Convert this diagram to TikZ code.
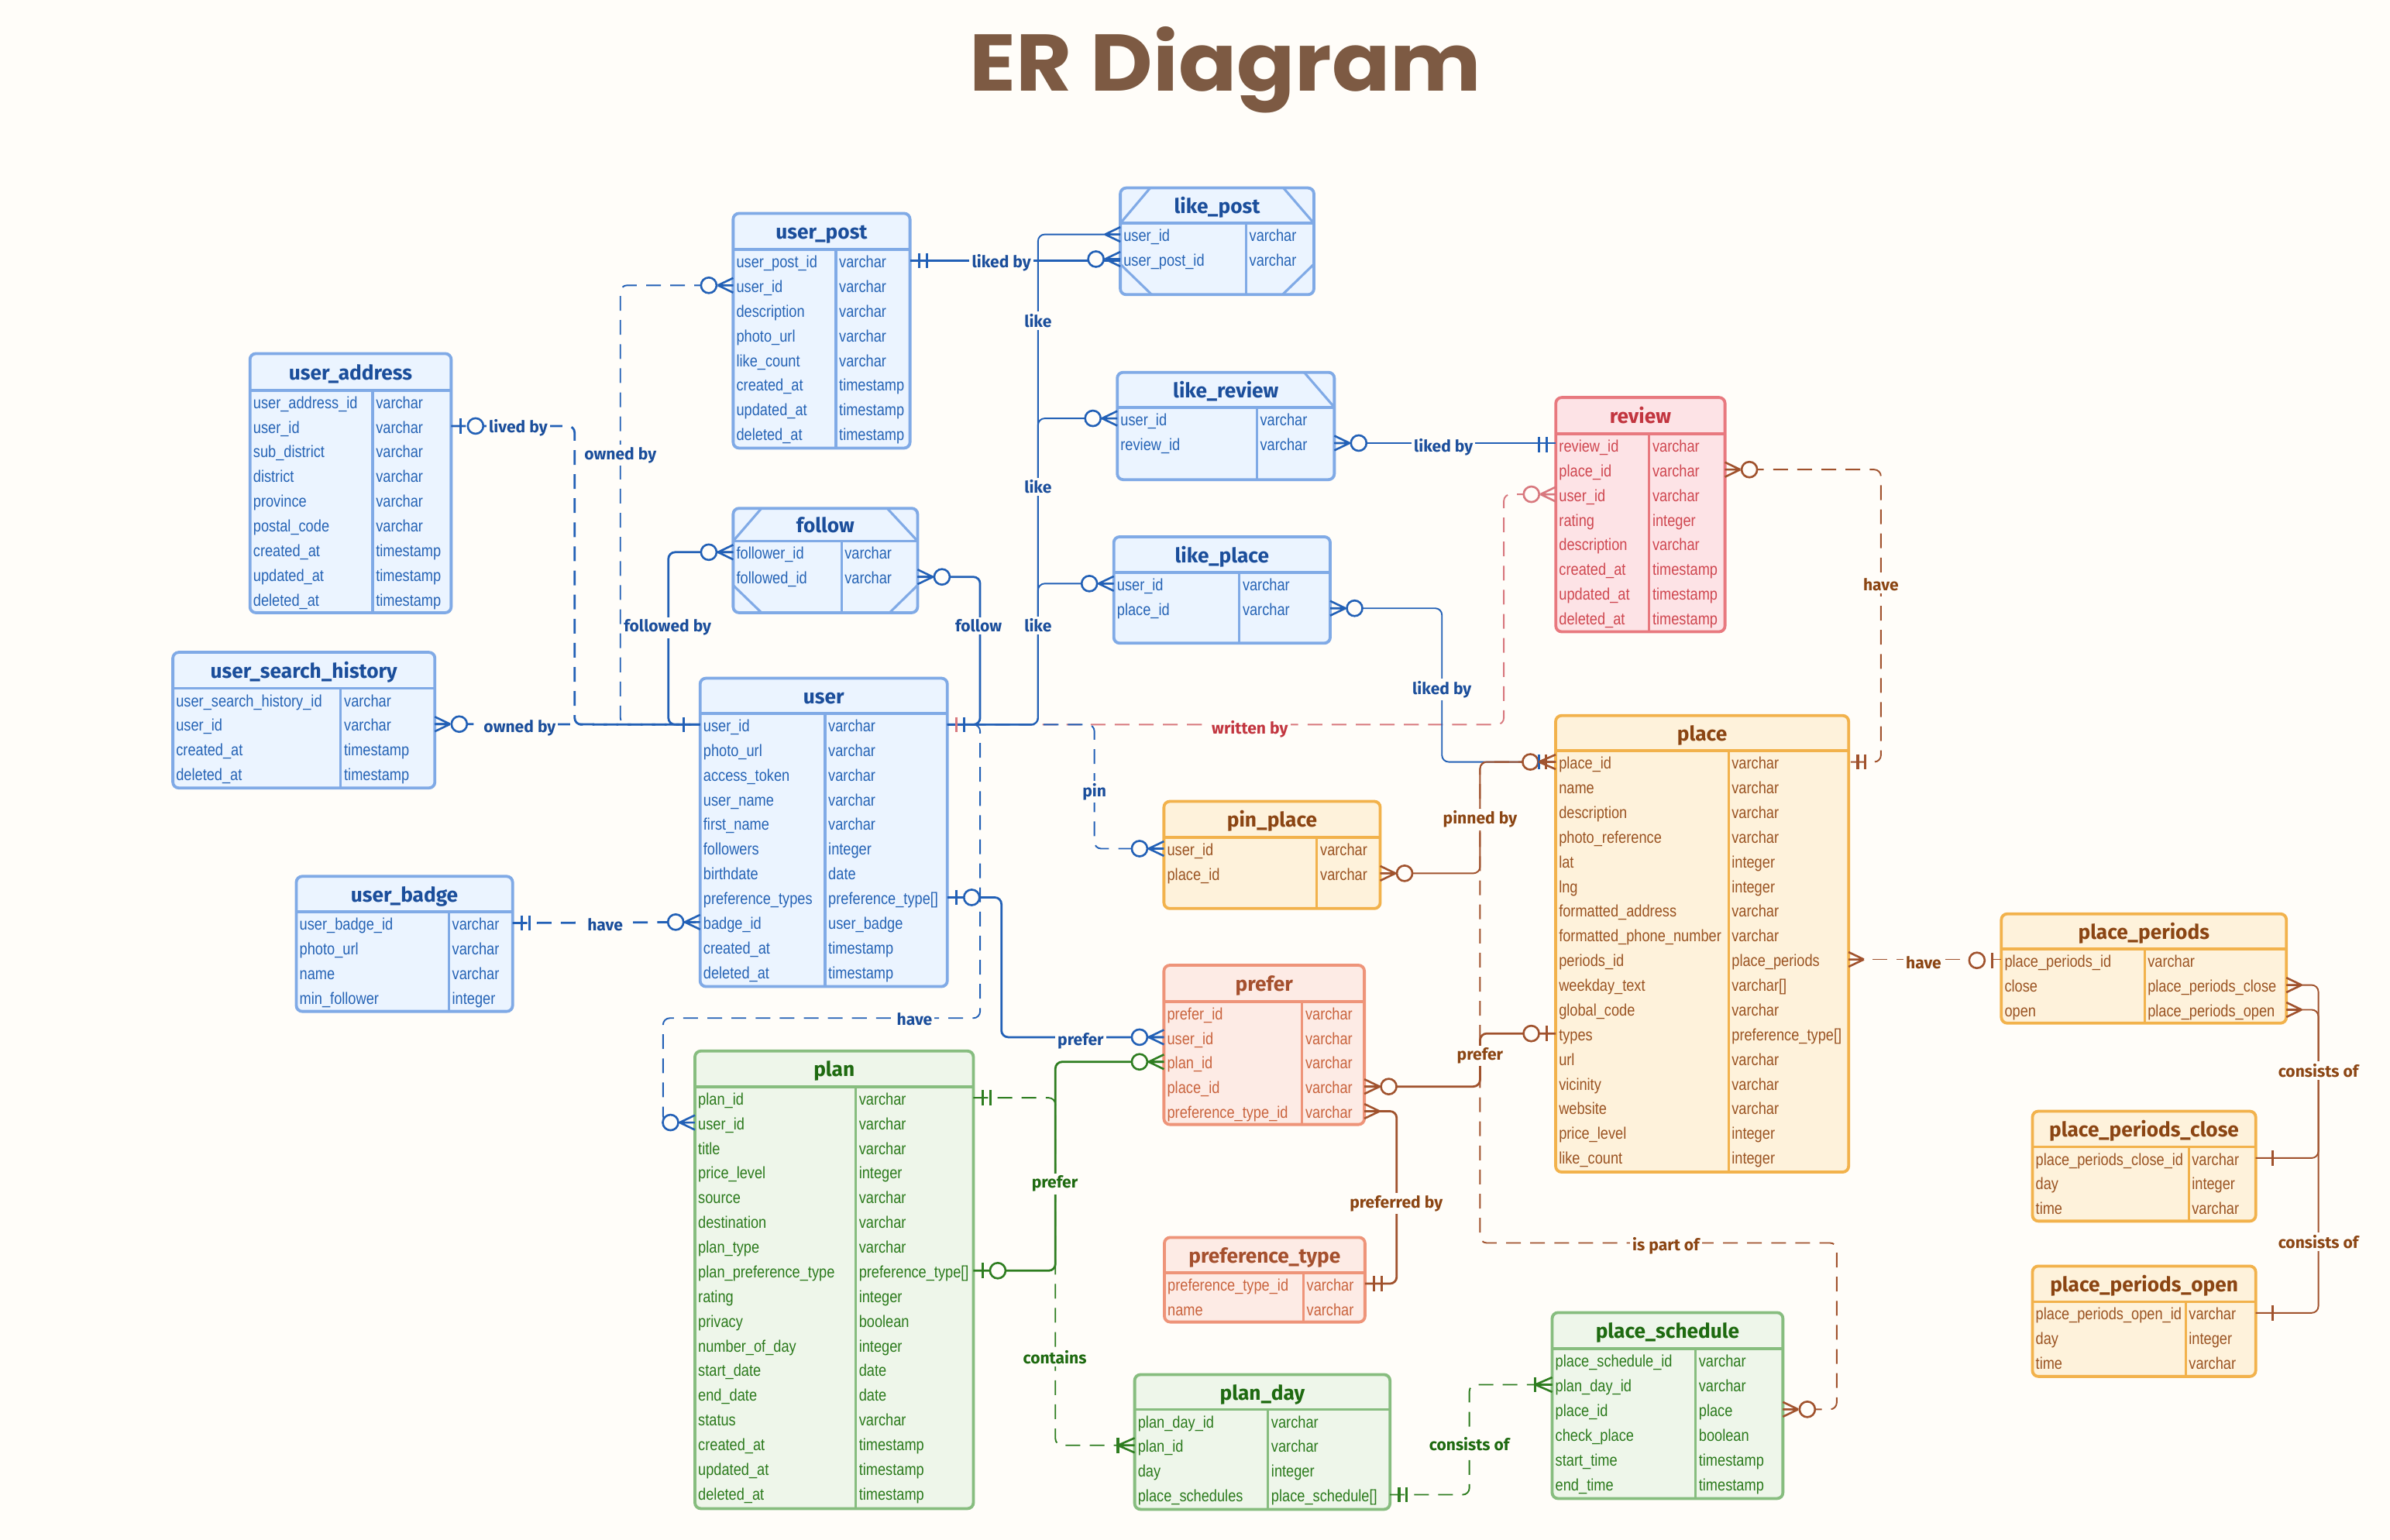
\documentclass[tikz,border=0pt]{standalone}
\usepackage{fontspec}
\setmainfont{Liberation Sans}[FakeStretch=0.85]
\newfontfamily\ttlfont{Fira Sans}
\newfontfamily\bigfont{Poppins}
\usetikzlibrary{calc}
\definecolor{bgc}{HTML}{FFFDF9}
\definecolor{titleC}{HTML}{7D5A43}
% blue
\definecolor{bB}{HTML}{80AAE6}\definecolor{bF}{HTML}{EBF4FF}\definecolor{bT}{HTML}{1B4E9B}\definecolor{bR}{HTML}{2563B5}\definecolor{bL}{HTML}{2260B6}
% red
\definecolor{rB}{HTML}{E8797F}\definecolor{rF}{HTML}{FDE3E6}\definecolor{rT}{HTML}{C2353F}\definecolor{rR}{HTML}{CF4750}\definecolor{rL}{HTML}{D8787E}
% orange
\definecolor{oB}{HTML}{F2B24C}\definecolor{oF}{HTML}{FEF2DB}\definecolor{oT}{HTML}{8B4513}\definecolor{oR}{HTML}{9A5322}\definecolor{oL}{HTML}{A0522D}
% salmon
\definecolor{sB}{HTML}{EE9479}\definecolor{sF}{HTML}{FDEBE5}\definecolor{sT}{HTML}{A5502E}\definecolor{sR}{HTML}{C9633D}
% green
\definecolor{gB}{HTML}{87BD7F}\definecolor{gF}{HTML}{EEF6EA}\definecolor{gT}{HTML}{1E6A10}\definecolor{gR}{HTML}{2B7A1C}\definecolor{gL}{HTML}{2E7D20}
\tikzset{
 rowtxt/.style={font=\fontsize{6.2}{7}\selectfont, inner sep=0pt},
 ttl/.style={font=\ttlfont\bfseries\fontsize{7.6}{9}\selectfont, inner sep=0pt, anchor=mid},
 lbl/.style={font=\ttlfont\bfseries\fontsize{6.1}{7}\selectfont, fill=bgc, inner sep=0.9pt, anchor=mid},
 thk/.style={line width=0.8pt},
 thn/.style={line width=0.55pt},
 dsh/.style={dash pattern=on 5.5pt off 3.5pt},
 conn/.style={rounded corners=2.5pt},
}
% entity: name, colour key, x1, y1, x2, y2, header bottom, column divider, title
\newcommand{\erent}[9]{%
 \pgfmathsetmacro\ERw{(#5-#3)*0.02}%
 \pgfmathsetmacro\ERh{(#6-#4)*0.02}%
 \node[draw=#2B, fill=#2F, line width=1.1pt, rounded corners=2.2pt, inner sep=0pt,
   minimum width=\ERw cm, minimum height=\ERh cm] (#1) at ({(#3+#5)/2},{(#4+#6)/2}) {};
 \draw[#2B, line width=1.1pt] (#3,#7) -- (#5,#7);
 \draw[#2B, line width=0.9pt] (#8,#7) -- (#8,#6);
 \node[ttl, text=#2T] (#1-title) at ({(#3+#5)/2},{(#4+#7)/2+0.5}) {#9};
 \xdef\ERx{#3}\xdef\ERxr{#5}\xdef\ERcd{#8}\xdef\ERhb{#7}\xdef\ERc{#2}}
\newcommand{\erows}[2]{%
 \foreach[count=\i] \fa/\ty in {#2}{%
   \pgfmathsetmacro\yy{\ERhb+7.3+(\i-1)*16.2}%
   \node[rowtxt, text=\ERc R, anchor=mid west] (#1-\i-f) at (\ERx+1.8,\yy) {\fa};
   \node[rowtxt, text=\ERc R, anchor=mid west] (#1-\i-t) at (\ERcd+1.8,\yy) {\ty};
   \coordinate (#1-\i-w) at (\ERx,\yy);
   \coordinate (#1-\i-e) at (\ERxr,\yy);
 }}
% markers
\newcommand{\mkfoot}[4]{\begin{scope}[shift={(#1)},xscale=#2]\draw[#3,line width=0.75pt] (#4,0)--(0,-4.8) (#4,0)--(0,4.8) (#4,0)--(0,0);\end{scope}}
\newcommand{\mkcirc}[4]{\begin{scope}[shift={(#1)},xscale=#2]\draw[#3,fill=bgc,line width=0.75pt] (#4,0) circle (2.9pt);\end{scope}}
\newcommand{\mkbar}[4]{\begin{scope}[shift={(#1)},xscale=#2]\draw[#3,line width=0.9pt] (#4,-5)--(#4,5);\end{scope}}
\newcommand{\mkzm}[3]{\mkfoot{#1}{#2}{#3}{10}\mkcirc{#1}{#2}{#3}{16}}
\newcommand{\mkzo}[3]{\mkbar{#1}{#2}{#3}{6}\mkcirc{#1}{#2}{#3}{16}}
\newcommand{\mkoo}[3]{\mkbar{#1}{#2}{#3}{6}\mkbar{#1}{#2}{#3}{11}}
\newcommand{\mkm}[3]{\mkfoot{#1}{#2}{#3}{10}}
\newcommand{\mkom}[3]{\mkfoot{#1}{#2}{#3}{11}\mkbar{#1}{#2}{#3}{11}}
\begin{document}
\catcode`\_=12
\begin{tikzpicture}[x=0.02cm,y=-0.02cm]
\fill[bgc] (0,0) rectangle (1568,1010.4);
\useasboundingbox (0,0) rectangle (1568,1010.4);

\node[font=\bigfont\bfseries\fontsize{30}{32}\selectfont, text=titleC, anchor=base, inner sep=0pt, xscale=1.07] (title) at (804,59.5) {ER Diagram};

% ---------- entities ----------
\erent{user_address}{b}{164}{232}{296}{402}{256}{244.5}{user_address}
\erows{user_address}{user_address_id/varchar, user_id/varchar, sub_district/varchar, district/varchar, province/varchar, postal_code/varchar, created_at/timestamp, updated_at/timestamp, deleted_at/timestamp}

\erent{user_post}{b}{481}{140}{597}{294}{163.7}{548.4}{user_post}
\erows{user_post}{user_post_id/varchar, user_id/varchar, description/varchar, photo_url/varchar, like_count/varchar, created_at/timestamp, updated_at/timestamp, deleted_at/timestamp}

\erent{follow}{b}{481}{333.5}{602}{402}{355}{552}{follow}
\erows{follow}{follower_id/varchar, followed_id/varchar}
\draw[bB, line width=0.9pt] (499.6,333.5) -- (481,355) (582,333.5) -- (602,355) (481,384) -- (499.6,402) (602,384) -- (583.6,402);

\erent{like_post}{b}{735}{123.3}{862}{193.3}{146.5}{817.5}{like_post}
\erows{like_post}{user_id/varchar, user_post_id/varchar}
\draw[bB, line width=0.9pt] (754.6,123.3) -- (735,146.5) (842,123.3) -- (862,146.5) (735,173.3) -- (755.6,193.3) (862,173.3) -- (841.4,193.3);

\erent{like_review}{b}{733}{244.3}{875.4}{314.7}{267.2}{824.6}{like_review}
\erows{like_review}{user_id/varchar, review_id/varchar}
\draw[bB, line width=0.9pt] (855.6,244.3) -- (875.4,267.2);

\erent{like_place}{b}{730.7}{352.2}{872.7}{422}{375.6}{813.1}{like_place}
\erows{like_place}{user_id/varchar, place_id/varchar}

\erent{review}{r}{1020.7}{260.8}{1131.7}{414.5}{284.6}{1082}{review}
\erows{review}{review_id/varchar, place_id/varchar, user_id/varchar, rating/integer, description/varchar, created_at/timestamp, updated_at/timestamp, deleted_at/timestamp}

\erent{user_search_history}{b}{113.4}{428}{285.3}{517}{451.6}{223.6}{user_search_history}
\erows{user_search_history}{user_search_history_id/varchar, user_id/varchar, created_at/timestamp, deleted_at/timestamp}

\erent{user}{b}{459.3}{445}{621.5}{647.3}{468.1}{541.3}{user}
\erows{user}{user_id/varchar, photo_url/varchar, access_token/varchar, user_name/varchar, first_name/varchar, followers/integer, birthdate/date, preference_types/preference_type[], badge_id/user_badge, created_at/timestamp, deleted_at/timestamp}

\erent{user_badge}{b}{194.4}{575}{336.3}{663.6}{598.3}{294.5}{user_badge}
\erows{user_badge}{user_badge_id/varchar, photo_url/varchar, name/varchar, min_follower/integer}

\erent{pin_place}{o}{763.6}{525.8}{905.5}{596.1}{549.5}{864}{pin_place}
\erows{pin_place}{user_id/varchar, place_id/varchar}

\erent{prefer}{s}{763.6}{633.3}{895.1}{737.8}{657}{854.3}{prefer}
\erows{prefer}{prefer_id/varchar, user_id/varchar, plan_id/varchar, place_id/varchar, preference_type_id/varchar}

\erent{place}{o}{1020.6}{469.5}{1212.8}{769}{492.6}{1134}{place}
\erows{place}{place_id/varchar, name/varchar, description/varchar, photo_reference/varchar, lat/integer, lng/integer, formatted_address/varchar, formatted_phone_number/varchar, periods_id/place_periods, weekday_text/varchar[], global_code/varchar, types/preference_type[], url/varchar, vicinity/varchar, website/varchar, price_level/integer, like_count/integer}

\erent{place_periods}{o}{1313}{599.6}{1500}{671.3}{622.8}{1406.9}{place_periods}
\erows{place_periods}{place_periods_id/varchar, close/place_periods_close, open/place_periods_open}

\erent{place_periods_close}{o}{1333.4}{729.1}{1479.9}{801.2}{752.5}{1435.9}{place_periods_close}
\erows{place_periods_close}{place_periods_close_id/varchar, day/integer, time/varchar}

\erent{place_periods_open}{o}{1333.4}{830.7}{1479.9}{903.1}{854.1}{1433.9}{place_periods_open}
\erows{place_periods_open}{place_periods_open_id/varchar, day/integer, time/varchar}

\erent{place_schedule}{g}{1018.3}{861.2}{1169.7}{983.2}{885}{1112.4}{place_schedule}
\erows{place_schedule}{place_schedule_id/varchar, plan_day_id/varchar, place_id/place, check_place/boolean, start_time/timestamp, end_time/timestamp}

\erent{plan}{g}{455.9}{689.6}{638.6}{989.8}{713}{561.4}{plan}
\erows{plan}{plan_id/varchar, user_id/varchar, title/varchar, price_level/integer, source/varchar, destination/varchar, plan_type/varchar, plan_preference_type/preference_type[], rating/integer, privacy/boolean, number_of_day/integer, start_date/date, end_date/date, status/varchar, created_at/timestamp, updated_at/timestamp, deleted_at/timestamp}

\erent{preference_type}{s}{763.9}{811.9}{895.5}{867.4}{834.9}{855.1}{preference_type}
\erows{preference_type}{preference_type_id/varchar, name/varchar}

\erent{plan_day}{g}{744.4}{901.9}{911.9}{990.3}{924.8}{831.9}{plan_day}
\erows{plan_day}{plan_day_id/varchar, plan_id/varchar, day/integer, place_schedules/place_schedule[]}

% ---------- routing columns ----------
\coordinate (c377) at (377,0);
\coordinate (c407) at (407,0);
\coordinate (c438) at (438.5,0);
\coordinate (c643) at (643,0);
\coordinate (c657) at (657,0);
\coordinate (c681) at (681,0);
\coordinate (c692) at (692.4,0);
\coordinate (c718) at (718,0);
\coordinate (c916) at (916.3,0);
\coordinate (c946) at (946,0);
\coordinate (c964) at (964,0);
\coordinate (c971) at (971,0);
\coordinate (c987) at (986.6,0);
\coordinate (c1234) at (1234,0);
\coordinate (c1521) at (1521,0);
\coordinate (hv1) at (643,668);
\coordinate (hv2) at (435,668);
\coordinate (ip1) at (1205,815.5);
\coordinate (ip2) at (971,815.5);

% ---------- connectors ----------
\draw[conn, rL, thn, dsh] (review-3-w) -| (c987 |- user-1-e) -- (user-1-e);
\draw[conn, bL, thk, dsh] (user_address-2-e) -| (c377 |- user-1-w) -- (user-1-w);
\draw[conn, bL, thn, dsh] (user_post-2-w) -| (c407 |- user-1-w) -- (user-1-w);
\draw[conn, bL, thk, dsh] (user_search_history-2-e) -- (user-1-w);
\draw[conn, bL, thk] (follow-1-w) -| (c438 |- user-1-w) -- (user-1-w);
\draw[conn, bL, thk] (follow-2-e) -| (c643 |- user-1-e) -- (user-1-e);
\draw[conn, bL, thn] (user-1-e) -| (c681 |- like_post-1-w) -- (like_post-1-w);
\draw[conn, bL, thn] (user-1-e) -| (c681 |- like_review-1-w) -- (like_review-1-w);
\draw[conn, bL, thn] (user-1-e) -| (c681 |- like_place-1-w) -- (like_place-1-w);
\draw[conn, bL, thk] (user_post-1-e) -- (user_post-1-e -| like_post-2-w);
\draw[conn, bL, thk] (like_review-2-e) -- (like_review-2-e -| review-1-w);
\draw[conn, bL, thn] (like_place-2-e) -| (c946 |- place-1-w) -- (place-1-w);
\draw[conn, bL, thn, dsh] (user-1-e) -| (c718 |- pin_place-1-w) -- (pin_place-1-w);
\draw[conn, bL, thn, dsh] (user-1-e) -| (hv1) -- (hv2) |- (plan-2-w);
\draw[conn, bL, thk] (user-8-e) -| (c657 |- prefer-2-w) -- (prefer-2-w);
\draw[conn, bL, thk, dsh] (user_badge-1-e) -- (user-9-w);
\draw[conn, gL, thk] (plan-8-e) -| (c692 |- prefer-3-w) -- (prefer-3-w);
\draw[conn, gL, thn, dsh] (plan-1-e) -| (c692 |- plan_day-2-w) -- (plan_day-2-w);
\draw[conn, gL, thn, dsh] (plan_day-4-e) -| (c964 |- place_schedule-2-w) -- (place_schedule-2-w);
\draw[conn, oL, thk] (prefer-4-e) -| (c971 |- place-12-w) -- (place-12-w);
\draw[conn, oL, thk] (prefer-5-e) -| (c916 |- preference_type-1-e) -- (preference_type-1-e);
\draw[conn, oL, thn] (pin_place-2-e) -| (c971 |- place-1-w) -- (place-1-w);
\draw[conn, oL, thn, dsh] (review-2-e) -| (c1234 |- place-1-e) -- (place-1-e);
\draw[conn, oL, thn, dsh] (place-9-e) -- (place-9-e -| place_periods-1-w);
\draw[conn, oL, thn] (place_periods-2-e) -| (c1521 |- place_periods_close-1-e) -- (place_periods_close-1-e);
\draw[conn, oL, thn] (place_periods-3-e) -| (c1521 |- place_periods_open-1-e) -- (place_periods_open-1-e);
\draw[conn, oL, thn, dsh] (place_schedule-3-e) -| (ip1) -- (ip2) |- (place-1-w);

% ---------- labels ----------
\node[lbl, text=bT] (l1) at (340,279) {lived by};
\node[lbl, text=bT] (l2) at (407,297) {owned by};
\node[lbl, text=bT] (l3) at (341,476) {owned by};
\node[lbl, text=bT] (l4) at (438,410) {followed by};
\node[lbl, text=bT] (l5) at (642,410) {follow};
\node[lbl, text=bT] (l6) at (681,210) {like};
\node[lbl, text=bT] (l7) at (681,319) {like};
\node[lbl, text=bT] (l8) at (681,410) {like};
\node[lbl, text=bT] (l9) at (657,171) {liked by};
\node[lbl, text=bT] (l10) at (947,292) {liked by};
\node[lbl, text=bT] (l11) at (946,451) {liked by};
\node[lbl, text=rT] (l12) at (820,477) {written by};
\node[lbl, text=bT] (l13) at (718,518) {pin};
\node[lbl, text=bT] (l14) at (600,668) {have};
\node[lbl, text=bT] (l15) at (709,681) {prefer};
\node[lbl, text=bT] (l16) at (397,606) {have};
\node[lbl, text=gT] (l17) at (692,775) {prefer};
\node[lbl, text=gT] (l18) at (692,890) {contains};
\node[lbl, text=oT] (l19) at (971,691) {prefer};
\node[lbl, text=oT] (l20) at (916,788) {preferred by};
\node[lbl, text=oT] (l21) at (971,536) {pinned by};
\node[lbl, text=oT] (l22) at (1234,383) {have};
\node[lbl, text=oT] (l23) at (1262,631) {have};
\node[lbl, text=oT] (l24) at (1521,702) {consists of};
\node[lbl, text=oT] (l25) at (1521,814.5) {consists of};
\node[lbl, text=oT] (l26) at (1093,816) {is part of};
\node[lbl, text=gT] (l27) at (964,947) {consists of};

% ---------- end markers ----------
\mkzo{user_address-2-e}{1}{bL}
\mkbar{user-1-w}{-1}{bL}{10.7}
\mkzm{user_post-2-w}{-1}{bL}
\mkzm{user_search_history-2-e}{1}{bL}
\mkzm{follow-1-w}{-1}{bL}
\mkzm{follow-2-e}{1}{bL}
\mkbar{user-1-e}{1}{rL}{6}
\mkbar{user-1-e}{1}{bL}{11}
\mkoo{user_post-1-e}{1}{bL}
\mkzm{like_post-2-w}{-1}{bL}
\mkm{like_post-1-w}{-1}{bL}
\mkzm{like_review-1-w}{-1}{bL}
\mkzm{like_place-1-w}{-1}{bL}
\mkzm{like_review-2-e}{1}{bL}
\mkoo{review-1-w}{-1}{bL}
\mkzm{like_place-2-e}{1}{bL}
\mkcirc{place-1-w}{-1}{oL}{16.6}
\mkbar{place-1-w}{-1}{bL}{11}
\mkfoot{place-1-w}{-1}{oL}{11}
\mkbar{place-1-w}{-1}{oL}{6.3}
\mkzm{review-3-w}{-1}{rL}
\mkzm{pin_place-1-w}{-1}{bL}
\mkzm{pin_place-2-e}{1}{oL}
\mkzm{plan-2-w}{-1}{bL}
\mkzo{user-8-e}{1}{bL}
\mkzm{prefer-2-w}{-1}{bL}
\mkoo{user_badge-1-e}{1}{bL}
\mkzm{user-9-w}{-1}{bL}
\mkzo{plan-8-e}{1}{gL}
\mkzm{prefer-3-w}{-1}{gL}
\mkoo{plan-1-e}{1}{gL}
\mkom{plan_day-2-w}{-1}{gL}
\mkzm{prefer-4-e}{1}{oL}
\mkzo{place-12-w}{-1}{oL}
\mkm{prefer-5-e}{1}{oL}
\mkoo{preference_type-1-e}{1}{oL}
\mkzm{review-2-e}{1}{oL}
\mkoo{place-1-e}{1}{oL}
\mkm{place-9-e}{1}{oL}
\mkzo{place_periods-1-w}{-1}{oL}
\mkm{place_periods-2-e}{1}{oL}
\mkm{place_periods-3-e}{1}{oL}
\mkbar{place_periods_close-1-e}{1}{oL}{11}
\mkbar{place_periods_open-1-e}{1}{oL}{11}
\mkzm{place_schedule-3-e}{1}{oL}
\mkoo{plan_day-4-e}{1}{gL}
\mkom{place_schedule-2-w}{-1}{gL}
\end{tikzpicture}
\end{document}
